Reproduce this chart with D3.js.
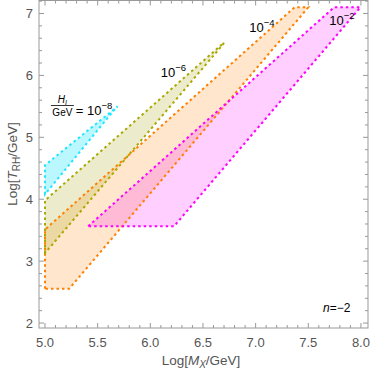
<!DOCTYPE html>
<html>
<head>
<meta charset="utf-8">
<script src="https://cdn.jsdelivr.net/npm/d3@7"></script>
<style>
  body { margin: 0; background: #fff; }
  svg { display: block; font-family: "Liberation Sans", Arial, sans-serif; }
  .tick-label { fill: #555; font-size: 13px; }
  .axis-title { fill: #555; font-size: 13.5px; }
</style>
</head>
<body>
<svg width="372" height="379"></svg>
<script>
const svg = d3.select("svg");

// Regions (Log M_X, Log T_RH) for each H_I/GeV value
const cyanPts = [[5.0, 4.08], [5.0, 4.55], [5.69, 5.50], [5.665, 5.46]];
const olivePts = [[5.0, 3.13], [5.0, 3.98], [6.70, 6.53], [6.685, 6.49]];
const orangePts = [[5.0, 2.555], [5.0, 3.51], [7.37, 7.10], [7.50, 7.10], [5.23, 2.555]];
const magentaPts = [[5.41, 3.563], [7.745, 7.10], [7.995, 7.10], [6.225, 3.563]];

const xTicks = [5.0, 5.5, 6.0, 6.5, 7.0, 7.5, 8.0];
const yTicks = [2, 3, 4, 5, 6, 7];

// frame in pixels
const fLeft = 39, fRight = 368, fTop = 0.5, fBottom = 328;

const x = d3.scaleLinear().domain([4.943, 8.067]).range([fLeft, fRight]);
const y = d3.scaleLinear().domain([1.92, 7.21]).range([fBottom, fTop]);

const regions = [
    { pts: orangePts, stroke: "#ff8000", fill: "#ff8000", op: 0.2 },
    { pts: olivePts, stroke: "#a8a800", fill: "#a0a000", op: 0.2 },
    { pts: cyanPts, stroke: "#22e4ff", fill: "#00e0ff", op: 0.27 },
    { pts: magentaPts, stroke: "#ff00ff", fill: "#ff00ff", op: 0.19 }
];

const line = d3.line().x(d => x(d[0])).y(d => y(d[1])).curve(d3.curveLinearClosed);

// fills first, then the dotted outlines on top
svg.selectAll(".fill")
    .data(regions)
    .enter().append("path")
    .attr("class", "fill")
    .attr("d", d => line(d.pts))
    .attr("fill", d => d.fill)
    .attr("fill-opacity", d => d.op)
    .attr("stroke", "none");

svg.selectAll(".edge")
    .data(regions)
    .enter().append("path")
    .attr("class", "edge")
    .attr("d", d => line(d.pts))
    .attr("fill", "none")
    .attr("stroke", d => d.stroke)
    .attr("stroke-width", 2)
    .attr("stroke-dasharray", "2.5,3");

// frame
svg.append("rect")
    .attr("x", fLeft).attr("y", fTop)
    .attr("width", fRight - fLeft).attr("height", fBottom - fTop)
    .attr("fill", "none").attr("stroke", "#999").attr("stroke-width", 1);

// ticks on all four sides (inward)
const xMinor = d3.range(5.0, 8.01, 0.1).filter(v => x(v) > fLeft && x(v) < fRight);
const yMinor = d3.range(2.0, 7.21, 0.2).filter(v => y(v) > fTop && y(v) < fBottom);
const tg = svg.append("g").attr("stroke", "#999").attr("stroke-width", 1);

xMinor.forEach(v => {
    const major = xTicks.some(t => Math.abs(t - v) < 1e-6);
    const len = major ? 5 : 3;
    tg.append("line").attr("x1", x(v)).attr("x2", x(v)).attr("y1", fBottom).attr("y2", fBottom - len);
    tg.append("line").attr("x1", x(v)).attr("x2", x(v)).attr("y1", fTop).attr("y2", fTop + len);
});
yMinor.forEach(v => {
    const major = yTicks.some(t => Math.abs(t - v) < 1e-6);
    const len = major ? 5 : 3;
    tg.append("line").attr("y1", y(v)).attr("y2", y(v)).attr("x1", fLeft).attr("x2", fLeft + len);
    tg.append("line").attr("y1", y(v)).attr("y2", y(v)).attr("x1", fRight).attr("x2", fRight - len);
});

// tick labels
svg.selectAll(".xl")
    .data(xTicks)
    .enter().append("text")
    .attr("class", "tick-label")
    .attr("x", d => x(d))
    .attr("y", 347)
    .attr("text-anchor", "middle")
    .text(d => d.toFixed(1));

svg.selectAll(".yl")
    .data(yTicks)
    .enter().append("text")
    .attr("class", "tick-label")
    .attr("x", 33)
    .attr("y", d => y(d) + 4.5)
    .attr("text-anchor", "end")
    .text(d => d);

// axis titles
const xt = svg.append("text").attr("class", "axis-title")
    .attr("x", 201).attr("y", 365).attr("text-anchor", "middle");
xt.append("tspan").text("Log[");
xt.append("tspan").attr("font-style", "italic").text("M");
xt.append("tspan").attr("font-style", "italic").attr("font-size", "10px").attr("dy", 3).text("X");
xt.append("tspan").attr("dy", -3).text("/GeV]");

const yt = svg.append("text").attr("class", "axis-title")
    .attr("transform", "translate(17,164) rotate(-90)")
    .attr("text-anchor", "middle");
yt.append("tspan").text("Log[");
yt.append("tspan").attr("font-style", "italic").text("T");
yt.append("tspan").attr("font-size", "10px").attr("dy", 3).text("RH");
yt.append("tspan").attr("dy", -3).text("/GeV]");

// region labels
function powLabel(xv, yv, exp) {
    const t = svg.append("text")
        .attr("x", x(xv)).attr("y", y(yv))
        .attr("font-size", "13px").attr("fill", "#000");
    t.append("tspan").text("10");
    t.append("tspan").attr("font-size", "9.5px").attr("dy", -6).text("\u2212" + exp);
    return t;
}
powLabel(6.10, 5.97, 6);
powLabel(6.94, 6.70, 4);
powLabel(7.70, 6.81, 2);

// H_I / GeV = 10^-8
const fx = x(5.165);
svg.append("line")
    .attr("x1", fx - 11.5).attr("x2", fx + 11.5)
    .attr("y1", 105.5).attr("y2", 105.5)
    .attr("stroke", "#000").attr("stroke-width", 0.8);
const num = svg.append("text").attr("x", fx).attr("y", 102.5)
    .attr("text-anchor", "middle").attr("font-size", "10px");
num.append("tspan").attr("font-style", "italic").text("H");
num.append("tspan").attr("font-style", "italic").attr("font-size", "7px").attr("dy", 2).text("I");
svg.append("text").attr("x", fx).attr("y", 116)
    .attr("text-anchor", "middle").attr("font-size", "10px").text("GeV");
const eq = svg.append("text").attr("x", x(5.293)).attr("y", 115)
    .attr("font-size", "13px");
eq.append("tspan").text("= 10");
eq.append("tspan").attr("font-size", "9.5px").attr("dy", -6).text("\u22128");

// n = -2
const nl = svg.append("text").attr("x", x(7.64)).attr("y", 312)
    .attr("font-size", "12px");
nl.append("tspan").attr("font-style", "italic").text("n");
nl.append("tspan").text("=\u22122");
</script>
</body>
</html>
